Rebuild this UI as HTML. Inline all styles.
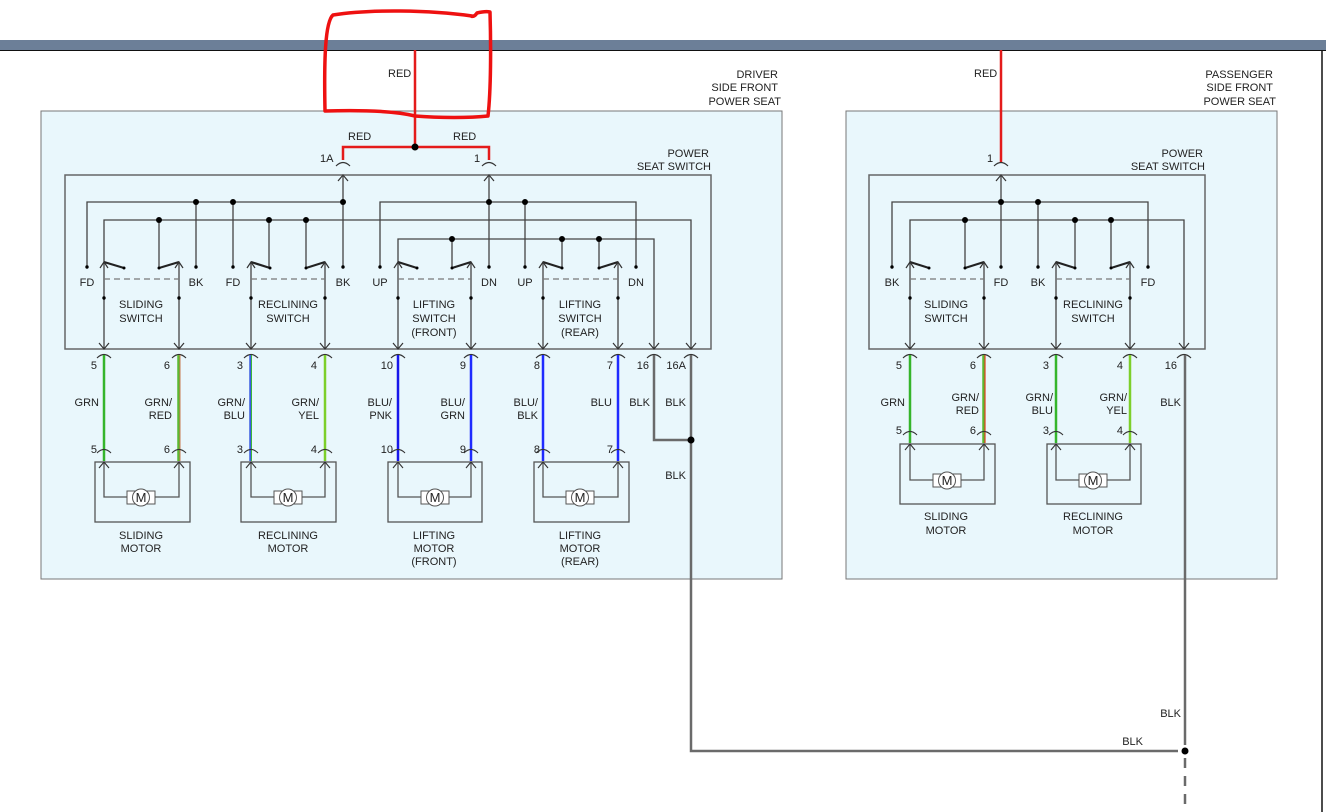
<!DOCTYPE html>
<html><head><meta charset="utf-8"><style>
html,body{margin:0;padding:0;background:#fff;}
svg{display:block;font-family:"Liberation Sans",sans-serif;font-size:11px;}
text{fill:#222;}
</style></head><body>
<svg width="1326" height="812" viewBox="0 0 1326 812" xmlns="http://www.w3.org/2000/svg">
<defs>
<g id="cd" fill="none" stroke="#333" stroke-width="1.2"><path d="M-5,-6 L0,0 L5,-6"/><path d="M-7,9 Q0,2 7,9"/></g>
<g id="cu" fill="none" stroke="#333" stroke-width="1.2"><path d="M-7,-9 Q0,-16 7,-9"/><path d="M-5,6 L0,0 L5,6"/></g>
<g id="sw" fill="none" stroke="#333" stroke-width="1.2"><path d="M-4,6 L0,0 L4,6"/></g>
</defs>
<!-- header -->
<rect x="0" y="40" width="1326" height="10" fill="#6c7f98"/>
<line x1="0" y1="50.5" x2="1326" y2="50.5" stroke="#111" stroke-width="1"/>
<line x1="1322" y1="50" x2="1322" y2="812" stroke="#111" stroke-width="1.5"/>

<!-- boxes -->
<rect x="41" y="111" width="741" height="468" fill="#e9f7fc" stroke="#777" stroke-width="1"/>
<rect x="846" y="111" width="431" height="468" fill="#e9f7fc" stroke="#777" stroke-width="1"/>
<rect x="65" y="175" width="646" height="174" fill="none" stroke="#666" stroke-width="1.5"/>
<rect x="869" y="175" width="336" height="174" fill="none" stroke="#666" stroke-width="1.5"/>

<g text-anchor="end">
<text x="778" y="78">DRIVER</text><text x="778" y="91">SIDE FRONT</text><text x="781" y="105">POWER SEAT</text>
<text x="709" y="157">POWER</text><text x="711" y="170">SEAT SWITCH</text>
<text x="1273" y="78">PASSENGER</text><text x="1273" y="91">SIDE FRONT</text><text x="1276" y="105">POWER SEAT</text>
<text x="1203" y="157">POWER</text><text x="1205" y="170">SEAT SWITCH</text>
</g>

<!-- red feed driver -->
<g stroke="#e41b1b" stroke-width="2.5" fill="none">
<line x1="415" y1="50" x2="415" y2="147"/>
<path d="M343,160 L343,147 L489,147 L489,160"/>
<line x1="1001" y1="50" x2="1001" y2="163"/>
</g>
<circle cx="415" cy="147" r="3.5" fill="#000"/>
<text x="388" y="77">RED</text><text x="348" y="140">RED</text><text x="453" y="140">RED</text>
<text x="320" y="162">1A</text><text x="474" y="162">1</text>
<text x="974" y="77">RED</text><text x="987" y="162">1</text>
<use href="#cu" x="343" y="175"/><use href="#cu" x="489" y="175"/><use href="#cu" x="1001" y="175"/>

<!-- driver switch internal wiring -->
<g stroke="#444" stroke-width="1.3" fill="none">
<line x1="343" y1="175" x2="343" y2="267"/>
<line x1="489" y1="175" x2="489" y2="267"/>
<path d="M87,267 L87,202 L343,202"/>
<path d="M380,267 L380,202 L636,202 L636,267"/>
<line x1="196" y1="202" x2="196" y2="267"/>
<line x1="233" y1="202" x2="233" y2="267"/>
<line x1="525" y1="202" x2="525" y2="267"/>
<path d="M104,349 L104,220 L691,220 L691,349"/>
<line x1="159" y1="220" x2="159" y2="267"/>
<line x1="269" y1="220" x2="269" y2="267"/>
<line x1="306" y1="220" x2="306" y2="267"/>
<path d="M398,349 L398,239 L654,239 L654,349"/>
<line x1="452" y1="239" x2="452" y2="267"/>
<line x1="562" y1="239" x2="562" y2="267"/>
<line x1="599" y1="239" x2="599" y2="267"/>
<line x1="179" y1="262" x2="179" y2="349"/>
<line x1="251" y1="262" x2="251" y2="349"/>
<line x1="325" y1="262" x2="325" y2="349"/>
<line x1="471" y1="262" x2="471" y2="349"/>
<line x1="543" y1="262" x2="543" y2="349"/>
<line x1="618" y1="262" x2="618" y2="349"/>
</g>
<g stroke="#222" stroke-width="2.2">
<line x1="104" y1="262" x2="124" y2="268"/><line x1="159" y1="268" x2="179" y2="262"/>
<line x1="251" y1="262" x2="270" y2="268"/><line x1="306" y1="268" x2="325" y2="262"/>
<line x1="398" y1="262" x2="417" y2="268"/><line x1="452" y1="268" x2="471" y2="262"/>
<line x1="543" y1="262" x2="562" y2="268"/><line x1="599" y1="268" x2="618" y2="262"/>
</g>
<g stroke="#777" stroke-width="1.3" stroke-dasharray="6,4">
<line x1="104" y1="279" x2="179" y2="279"/><line x1="251" y1="279" x2="325" y2="279"/>
<line x1="398" y1="279" x2="471" y2="279"/><line x1="543" y1="279" x2="618" y2="279"/>
</g>
<g fill="#000">
<circle cx="196" cy="202" r="3"/><circle cx="233" cy="202" r="3"/><circle cx="343" cy="202" r="3"/>
<circle cx="489" cy="202" r="3"/><circle cx="525" cy="202" r="3"/>
<circle cx="159" cy="220" r="3"/><circle cx="269" cy="220" r="3"/><circle cx="306" cy="220" r="3"/>
<circle cx="452" cy="239" r="3"/><circle cx="562" cy="239" r="3"/><circle cx="599" cy="239" r="3"/>
<g>
<circle cx="87" cy="267" r="1.7"/><circle cx="196" cy="267" r="1.7"/><circle cx="233" cy="267" r="1.7"/><circle cx="343" cy="267" r="1.7"/>
<circle cx="380" cy="267" r="1.7"/><circle cx="489" cy="267" r="1.7"/><circle cx="525" cy="267" r="1.7"/><circle cx="636" cy="267" r="1.7"/>
<circle cx="124" cy="268" r="1.5"/><circle cx="159" cy="268" r="1.5"/><circle cx="270" cy="268" r="1.5"/><circle cx="306" cy="268" r="1.5"/>
<circle cx="417" cy="268" r="1.5"/><circle cx="452" cy="268" r="1.5"/><circle cx="562" cy="268" r="1.5"/><circle cx="599" cy="268" r="1.5"/>
<circle cx="104" cy="298" r="1.7"/><circle cx="179" cy="298" r="1.7"/><circle cx="251" cy="298" r="1.7"/><circle cx="325" cy="298" r="1.7"/>
<circle cx="398" cy="298" r="1.7"/><circle cx="471" cy="298" r="1.7"/><circle cx="543" cy="298" r="1.7"/><circle cx="618" cy="298" r="1.7"/>
</g></g>
<use href="#sw" x="104" y="262"/><use href="#sw" x="179" y="262"/><use href="#sw" x="251" y="262"/><use href="#sw" x="325" y="262"/>
<use href="#sw" x="398" y="262"/><use href="#sw" x="471" y="262"/><use href="#sw" x="543" y="262"/><use href="#sw" x="618" y="262"/>
<g text-anchor="middle">
<text x="87" y="286">FD</text><text x="196" y="286">BK</text><text x="233" y="286">FD</text><text x="343" y="286">BK</text>
<text x="380" y="286">UP</text><text x="489" y="286">DN</text><text x="525" y="286">UP</text><text x="636" y="286">DN</text>
<text x="141" y="308">SLIDING</text><text x="141" y="322">SWITCH</text>
<text x="288" y="308">RECLINING</text><text x="288" y="322">SWITCH</text>
<text x="434" y="308">LIFTING</text><text x="434" y="322">SWITCH</text><text x="434" y="336">(FRONT)</text>
<text x="580" y="308">LIFTING</text><text x="580" y="322">SWITCH</text><text x="580" y="336">(REAR)</text>
</g>

<!-- passenger switch internal -->
<g stroke="#444" stroke-width="1.3" fill="none">
<line x1="1001" y1="175" x2="1001" y2="267"/>
<path d="M892,267 L892,202 L1148,202 L1148,267"/>
<line x1="1038" y1="202" x2="1038" y2="267"/>
<path d="M910,349 L910,220 L1184,220 L1184,349"/>
<line x1="965" y1="220" x2="965" y2="267"/>
<line x1="1075" y1="220" x2="1075" y2="267"/>
<line x1="1111" y1="220" x2="1111" y2="267"/>
<line x1="984" y1="262" x2="984" y2="349"/>
<line x1="1056" y1="262" x2="1056" y2="349"/>
<line x1="1130" y1="262" x2="1130" y2="349"/>
</g>
<g stroke="#222" stroke-width="2.2">
<line x1="910" y1="262" x2="929" y2="268"/><line x1="965" y1="268" x2="984" y2="262"/>
<line x1="1056" y1="262" x2="1075" y2="268"/><line x1="1111" y1="268" x2="1130" y2="262"/>
</g>
<g stroke="#777" stroke-width="1.3" stroke-dasharray="6,4">
<line x1="910" y1="279" x2="984" y2="279"/><line x1="1056" y1="279" x2="1130" y2="279"/>
</g>
<g fill="#000">
<circle cx="1001" cy="202" r="3"/><circle cx="1038" cy="202" r="3"/>
<circle cx="965" cy="220" r="3"/><circle cx="1075" cy="220" r="3"/><circle cx="1111" cy="220" r="3"/>
<circle cx="892" cy="267" r="1.7"/><circle cx="1001" cy="267" r="1.7"/><circle cx="1038" cy="267" r="1.7"/><circle cx="1148" cy="267" r="1.7"/>
<circle cx="929" cy="268" r="1.5"/><circle cx="965" cy="268" r="1.5"/><circle cx="1075" cy="268" r="1.5"/><circle cx="1111" cy="268" r="1.5"/>
<circle cx="910" cy="298" r="1.7"/><circle cx="984" cy="298" r="1.7"/><circle cx="1056" cy="298" r="1.7"/><circle cx="1130" cy="298" r="1.7"/>
</g>
<use href="#sw" x="910" y="262"/><use href="#sw" x="984" y="262"/><use href="#sw" x="1056" y="262"/><use href="#sw" x="1130" y="262"/>
<g text-anchor="middle">
<text x="892" y="286">BK</text><text x="1001" y="286">FD</text><text x="1038" y="286">BK</text><text x="1148" y="286">FD</text>
<text x="946" y="308">SLIDING</text><text x="946" y="322">SWITCH</text>
<text x="1093" y="308">RECLINING</text><text x="1093" y="322">SWITCH</text>
</g>

<!-- bottom connectors -->
<g>
<use href="#cd" x="104" y="349"/><use href="#cd" x="179" y="349"/><use href="#cd" x="251" y="349"/><use href="#cd" x="325" y="349"/>
<use href="#cd" x="398" y="349"/><use href="#cd" x="471" y="349"/><use href="#cd" x="543" y="349"/><use href="#cd" x="618" y="349"/>
<use href="#cd" x="654" y="349"/><use href="#cd" x="691" y="349"/>
<use href="#cd" x="910" y="349"/><use href="#cd" x="984" y="349"/><use href="#cd" x="1056" y="349"/><use href="#cd" x="1130" y="349"/><use href="#cd" x="1184" y="349"/>
</g>

<!-- driver wires -->
<g stroke-width="2.5" fill="none">
<line x1="104" y1="355" x2="104" y2="461" stroke="#35b52b"/>
<line x1="178.5" y1="355" x2="178.5" y2="461" stroke="#5cb832"/><line x1="180" y1="355" x2="180" y2="461" stroke="#c87850" stroke-width="1"/>
<line x1="250.5" y1="355" x2="250.5" y2="461" stroke="#3a5de0"/><line x1="251.5" y1="355" x2="251.5" y2="461" stroke="#3cb53a" stroke-width="1"/>
<line x1="325" y1="355" x2="325" y2="461" stroke="#7ccf2a"/>
<line x1="398" y1="355" x2="398" y2="461" stroke="#1717ea"/>
<line x1="471" y1="355" x2="471" y2="461" stroke="#1f2bff"/>
<line x1="543" y1="355" x2="543" y2="461" stroke="#1f2bff"/>
<line x1="618" y1="355" x2="618" y2="461" stroke="#1f2bff"/>
<path d="M654,355 L654,440 L691,440" stroke="#6a6a6a"/>
<path d="M691,355 L691,751 L1178,751" stroke="#6a6a6a"/>
<!-- passenger -->
<line x1="910" y1="355" x2="910" y2="443" stroke="#35b52b"/>
<line x1="983.5" y1="355" x2="983.5" y2="443" stroke="#5cb832"/><line x1="985" y1="355" x2="985" y2="443" stroke="#e04020" stroke-width="1.2"/>
<line x1="1056" y1="355" x2="1056" y2="443" stroke="#35b52b"/>
<line x1="1130" y1="355" x2="1130" y2="443" stroke="#7ccf2a"/>
<line x1="1185" y1="355" x2="1185" y2="745" stroke="#6a6a6a"/>
<line x1="1185" y1="758" x2="1185" y2="812" stroke="#6a6a6a" stroke-dasharray="10,8"/>
</g>
<circle cx="691" cy="440" r="3.5" fill="#000"/>
<circle cx="1185" cy="751" r="3.5" fill="#000"/>

<g text-anchor="end">
<text x="97" y="369">5</text><text x="170" y="369">6</text><text x="243" y="369">3</text><text x="317" y="369">4</text>
<text x="393" y="369">10</text><text x="466" y="369">9</text><text x="540" y="369">8</text><text x="613" y="369">7</text>
<text x="649" y="369">16</text><text x="686" y="369">16A</text>
<text x="97" y="453">5</text><text x="170" y="453">6</text><text x="243" y="453">3</text><text x="317" y="453">4</text>
<text x="393" y="453">10</text><text x="466" y="453">9</text><text x="540" y="453">8</text><text x="613" y="453">7</text>
<text x="99" y="406">GRN</text>
<text x="172" y="406">GRN/</text><text x="172" y="419">RED</text>
<text x="245" y="406">GRN/</text><text x="245" y="419">BLU</text>
<text x="319" y="406">GRN/</text><text x="319" y="419">YEL</text>
<text x="392" y="406">BLU/</text><text x="392" y="419">PNK</text>
<text x="465" y="406">BLU/</text><text x="465" y="419">GRN</text>
<text x="538" y="406">BLU/</text><text x="538" y="419">BLK</text>
<text x="612" y="406">BLU</text>
<text x="650" y="406">BLK</text><text x="686" y="406">BLK</text><text x="686" y="479">BLK</text>
<text x="902" y="369">5</text><text x="976" y="369">6</text><text x="1049" y="369">3</text><text x="1123" y="369">4</text><text x="1177" y="369">16</text>
<text x="902" y="434">5</text><text x="976" y="434">6</text><text x="1049" y="434">3</text><text x="1123" y="434">4</text>
<text x="905" y="406">GRN</text>
<text x="979" y="401">GRN/</text><text x="979" y="414">RED</text>
<text x="1053" y="401">GRN/</text><text x="1053" y="414">BLU</text>
<text x="1127" y="401">GRN/</text><text x="1127" y="414">YEL</text>
<text x="1181" y="406">BLK</text><text x="1181" y="717">BLK</text><text x="1143" y="745">BLK</text>
</g>

<!-- motors -->
<g fill="none" stroke="#555" stroke-width="1.3">
<rect x="95" y="462" width="95" height="60"/><rect x="241" y="462" width="95" height="60"/>
<rect x="388" y="462" width="94" height="60"/><rect x="534" y="462" width="95" height="60"/>
<rect x="900" y="444" width="95" height="60"/><rect x="1047" y="444" width="94" height="60"/>
<path d="M104,462 L104,497 L127,497 M155,497 L179,497 L179,462"/>
<path d="M251,462 L251,497 L274,497 M302,497 L325,497 L325,462"/>
<path d="M398,462 L398,497 L421,497 M449,497 L471,497 L471,462"/>
<path d="M543,462 L543,497 L566,497 M594,497 L618,497 L618,462"/>
<path d="M910,444 L910,480 L933,480 M961,480 L984,480 L984,444"/>
<path d="M1056,444 L1056,480 L1079,480 M1107,480 L1130,480 L1130,444"/>
</g>
<g fill="none" stroke="#333" stroke-width="1.1">
<path d="M-7,-9 Q0,-16 7,-9 M-5,6 L0,0 L5,6" transform="translate(104,462)"/>
<path d="M-7,-9 Q0,-16 7,-9 M-5,6 L0,0 L5,6" transform="translate(179,462)"/>
<path d="M-7,-9 Q0,-16 7,-9 M-5,6 L0,0 L5,6" transform="translate(251,462)"/>
<path d="M-7,-9 Q0,-16 7,-9 M-5,6 L0,0 L5,6" transform="translate(325,462)"/>
<path d="M-7,-9 Q0,-16 7,-9 M-5,6 L0,0 L5,6" transform="translate(398,462)"/>
<path d="M-7,-9 Q0,-16 7,-9 M-5,6 L0,0 L5,6" transform="translate(471,462)"/>
<path d="M-7,-9 Q0,-16 7,-9 M-5,6 L0,0 L5,6" transform="translate(543,462)"/>
<path d="M-7,-9 Q0,-16 7,-9 M-5,6 L0,0 L5,6" transform="translate(618,462)"/>
<path d="M-7,-9 Q0,-16 7,-9 M-5,6 L0,0 L5,6" transform="translate(910,444)"/>
<path d="M-7,-9 Q0,-16 7,-9 M-5,6 L0,0 L5,6" transform="translate(984,444)"/>
<path d="M-7,-9 Q0,-16 7,-9 M-5,6 L0,0 L5,6" transform="translate(1056,444)"/>
<path d="M-7,-9 Q0,-16 7,-9 M-5,6 L0,0 L5,6" transform="translate(1130,444)"/>
</g>
<g fill="#fff" stroke="#555" stroke-width="1">
<rect x="127" y="491" width="28" height="13"/><circle cx="141" cy="497.5" r="8.5"/>
<rect x="274" y="491" width="28" height="13"/><circle cx="288" cy="497.5" r="8.5"/>
<rect x="421" y="491" width="28" height="13"/><circle cx="435" cy="497.5" r="8.5"/>
<rect x="566" y="491" width="28" height="13"/><circle cx="580" cy="497.5" r="8.5"/>
<rect x="933" y="474" width="28" height="13"/><circle cx="947" cy="480.5" r="8.5"/>
<rect x="1079" y="474" width="28" height="13"/><circle cx="1093" cy="480.5" r="8.5"/>
</g>
<g text-anchor="middle" font-size="13">
<text x="141" y="502">M</text><text x="288" y="502">M</text><text x="435" y="502">M</text><text x="580" y="502">M</text>
<text x="947" y="485">M</text><text x="1093" y="485">M</text>
</g>
<g text-anchor="middle">
<text x="141" y="539">SLIDING</text><text x="141" y="552">MOTOR</text>
<text x="288" y="539">RECLINING</text><text x="288" y="552">MOTOR</text>
<text x="434" y="539">LIFTING</text><text x="434" y="552">MOTOR</text><text x="434" y="565">(FRONT)</text>
<text x="580" y="539">LIFTING</text><text x="580" y="552">MOTOR</text><text x="580" y="565">(REAR)</text>
<text x="946" y="520">SLIDING</text><text x="946" y="534">MOTOR</text>
<text x="1093" y="520">RECLINING</text><text x="1093" y="534">MOTOR</text>
</g>

<!-- red annotation -->
<path d="M472,16 C430,10 370,9 333,15 C325,22 324,60 325,111 C360,110 395,111 415,116 C440,118 470,118 488,116 C491,90 491,45 490,12 C486,11 481,12 477,13 C475,16 473,17 471,16" fill="none" stroke="#ee1111" stroke-width="3.5" stroke-linecap="round" stroke-linejoin="round"/>
</svg>
</body></html>
